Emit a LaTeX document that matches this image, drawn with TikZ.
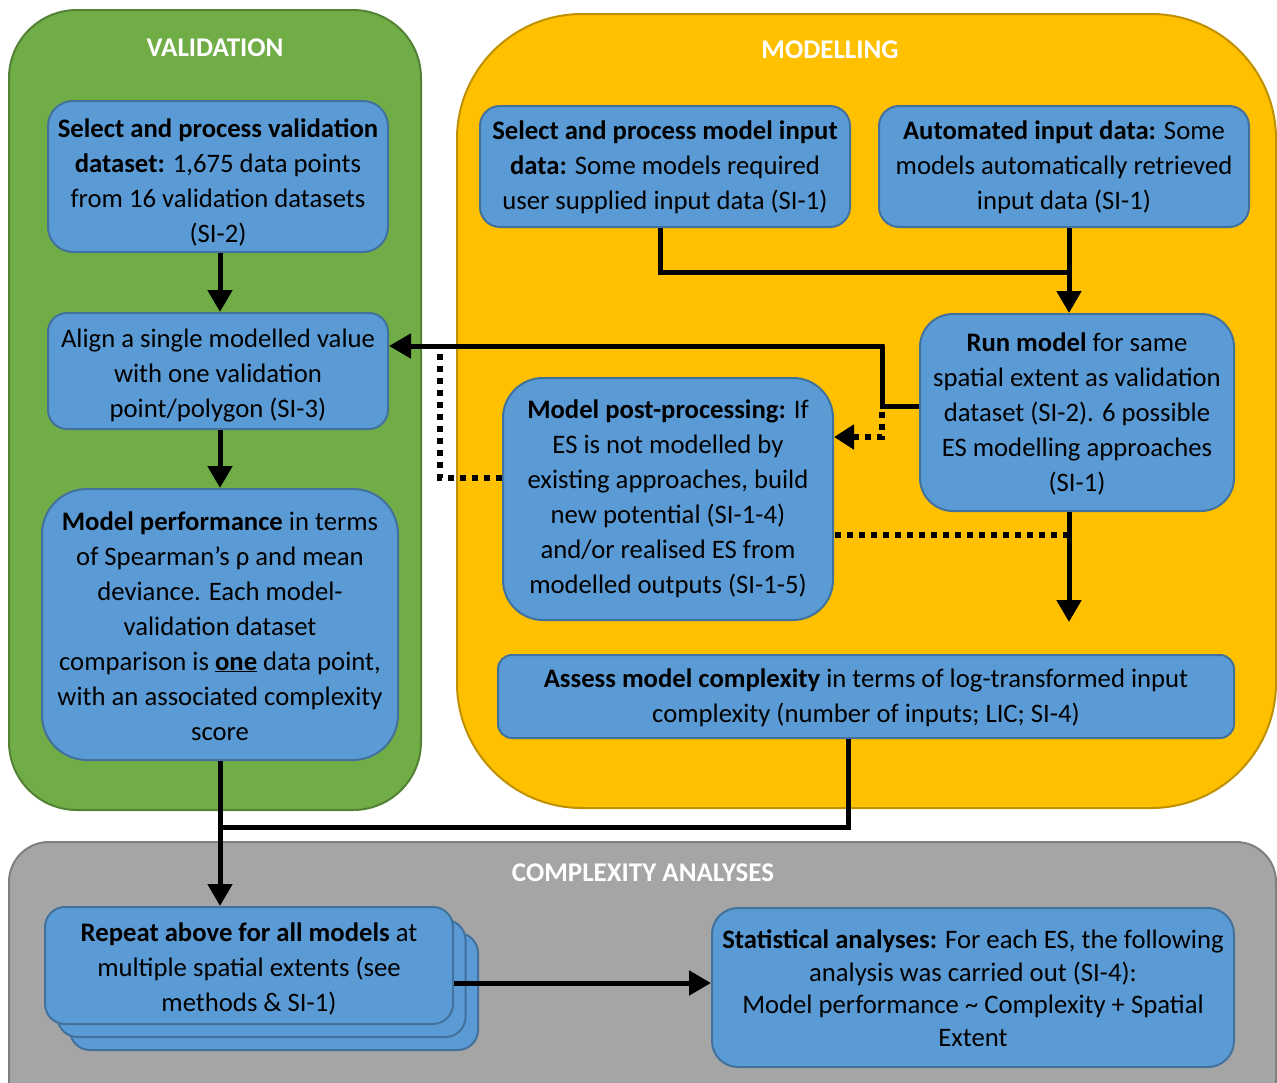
\documentclass[tikz,border=0pt]{standalone}
\usepackage{fontspec}
\setmainfont{Carlito}
\usetikzlibrary{arrows.meta}
\definecolor{gfill}{HTML}{70AD47}
\definecolor{gline}{HTML}{548235}
\definecolor{ofill}{HTML}{FFC000}
\definecolor{oline}{HTML}{BF9000}
\definecolor{kfill}{HTML}{A5A5A5}
\definecolor{kline}{HTML}{7F7F7F}
\definecolor{bfill}{HTML}{5B9BD5}
\definecolor{bline}{HTML}{41719C}
\newcommand{\liftlines}[2]{\raisebox{#1}[\height][\depth]{\begin{tabular}{@{}c@{}}#2\end{tabular}}}
\tikzset{
  box/.style={draw=bline, fill=bfill, line width=2pt, inner sep=0pt,
    font=\fontsize{26.7}{35}\selectfont, text=black},
  title/.style={text=white, font=\fontsize{27}{30}\selectfont\bfseries},
  arr/.style={line width=5pt, -{Triangle[length=22pt,width=24pt]}},
  lin/.style={line width=5pt},
  dots/.style={line width=6pt, dash pattern=on 6pt off 6pt},
  dotarr/.style={dots, -{Triangle[length=20pt,width=24pt]}},
}
\begin{document}
\begin{tikzpicture}[x=1pt,y=-1pt]
\useasboundingbox (0,0) rectangle (1277,1082);
\clip (0,0) rectangle (1277,1082);
% containers
\draw[fill=gfill, draw=gline, line width=2pt, rounded corners=68pt] (9,10) rectangle (421,810);
\node[title] (tval) at (215,48) {VALIDATION};
\draw[fill=ofill, draw=oline, line width=2pt, rounded corners=125pt] (457,14) rectangle (1276,808);
\node[title] (tmod) at (830,50) {MODELLING};
\draw[fill=kfill, draw=kline, line width=2pt, rounded corners=40pt] (9,842) rectangle (1276,1120);
\node[title] (tcom) at (643,873) {COMPLEXITY ANALYSES};
% boxes
\node[box, minimum width=340pt, minimum height=151pt, rounded corners=25pt] (b1) at (218,176.5)
 {\liftlines{-6pt}{\textbf{Select and process validation}\\ \textbf{dataset:} 1,675 data points\\ from 16 validation datasets\\ (SI-2)}};
\node[box, minimum width=340pt, minimum height=116pt, rounded corners=19pt] (b2) at (218,371)
 {\liftlines{-4pt}{Align a single modelled value\\ with one validation\\ point/polygon (SI-3)}};
\node[box, minimum width=356pt, minimum height=271pt, rounded corners=45pt] (b3) at (220,624.5)
 {\liftlines{-3.5pt}{\textbf{Model performance} in terms\\ of Spearman’s ρ and mean\\ deviance. Each model-\\ validation dataset\\ comparison is \textbf{\underline{one}} data point,\\ with an associated complexity\\ score}};
\node[box, minimum width=370pt, minimum height=121pt, rounded corners=20pt] (b4) at (665,166.5)
 {\liftlines{-1pt}{\textbf{Select and process model input}\\ \textbf{data:} Some models required\\ user supplied input data (SI-1)}};
\node[box, minimum width=370pt, minimum height=121pt, rounded corners=20pt] (b5) at (1064,166.5)
 {\liftlines{-1pt}{\textbf{Automated input data:} Some\\ models automatically retrieved\\ input data (SI-1)}};
\node[box, minimum width=314pt, minimum height=197pt, rounded corners=33pt] (b6) at (1077,412.5)
 {\liftlines{-1.5pt}{\textbf{Run model} for same\\ spatial extent as validation\\ dataset (SI-2). 6 possible\\ ES modelling approaches\\ (SI-1)}};
\node[box, minimum width=330pt, minimum height=242pt, rounded corners=40pt] (b7) at (668,499)
 {\liftlines{0pt}{\textbf{Model post-processing:} If\\ ES is not modelled by\\ existing approaches, build\\ new potential (SI-1-4)\\ and/or realised ES from\\ modelled outputs (SI-1-5)}};
\node[box, minimum width=736pt, minimum height=83pt, rounded corners=14pt] (b8) at (866,696.5)
 {\liftlines{-1pt}{\textbf{Assess model complexity} in terms of log-transformed input\\ complexity (number of inputs; LIC; SI-4)}};
\node[box, minimum width=408pt, minimum height=117pt, rounded corners=20pt] (b9c) at (274,991.5) {};
\node[box, minimum width=408pt, minimum height=117pt, rounded corners=20pt] (b9b) at (261.5,978.5) {};
\node[box, minimum width=408pt, minimum height=117pt, rounded corners=20pt] (b9) at (249,965.5)
 {\liftlines{-3.5pt}{\textbf{Repeat above for all models} at\\ multiple spatial extents (see\\ methods \& SI-1)}};
\node[box, minimum width=522pt, minimum height=159pt, rounded corners=26pt,
  font=\fontsize{26.7}{32.5}\selectfont] (b10) at (973,987.5)
 {\liftlines{-3.5pt}{\textbf{Statistical analyses:} For each ES, the following\\ analysis was carried out (SI-4):\\ Model performance \textasciitilde{} Complexity + Spatial\\ Extent}};
% coordinates
\coordinate (j1) at (220,827);
\coordinate (j2) at (1069,272);
\coordinate (k1) at (882,406);
\coordinate (k2) at (882,346);
\coordinate (free) at (1069,622);
\coordinate (d1) at (1069,535);
\coordinate (d2) at (440,478);
\coordinate (d3) at (440,350);
% connectors
\draw[arr] (b1.south -| 220,0) -- (b2.north -| 220,0);
\draw[arr] (b2.south -| 220,0) -- (b3.north -| 220,0);
\draw[arr] (b3.south -| 220,0) -- (b9.north -| 220,0);
\draw[lin] (b8.south -| 848,0) |- (j1);
\draw[lin] (b4.south -| 660,0) |- (j2);
\draw[arr] (b5.south -| j2) -- (b6.north -| j2);
\draw[lin] (b6.west |- k1) -- (k1) -- (k2);
\draw[arr] (k2) -- ++(2.5,0) -- (b2.east |- k2);
\draw[arr] (b6.south -| free) -- (free);
\draw[dotarr] (882,412) -- (882,437) -- (b7.east |- 0,437);
\draw[dots] (d1) -- (b7.east |- d1);
\draw[dots] (b7.west |- d2) -- (d2) -- (d3);
\draw[arr] (b9.east |- 0,983) -- (b10.west |- 0,983);
\end{tikzpicture}
\end{document}
